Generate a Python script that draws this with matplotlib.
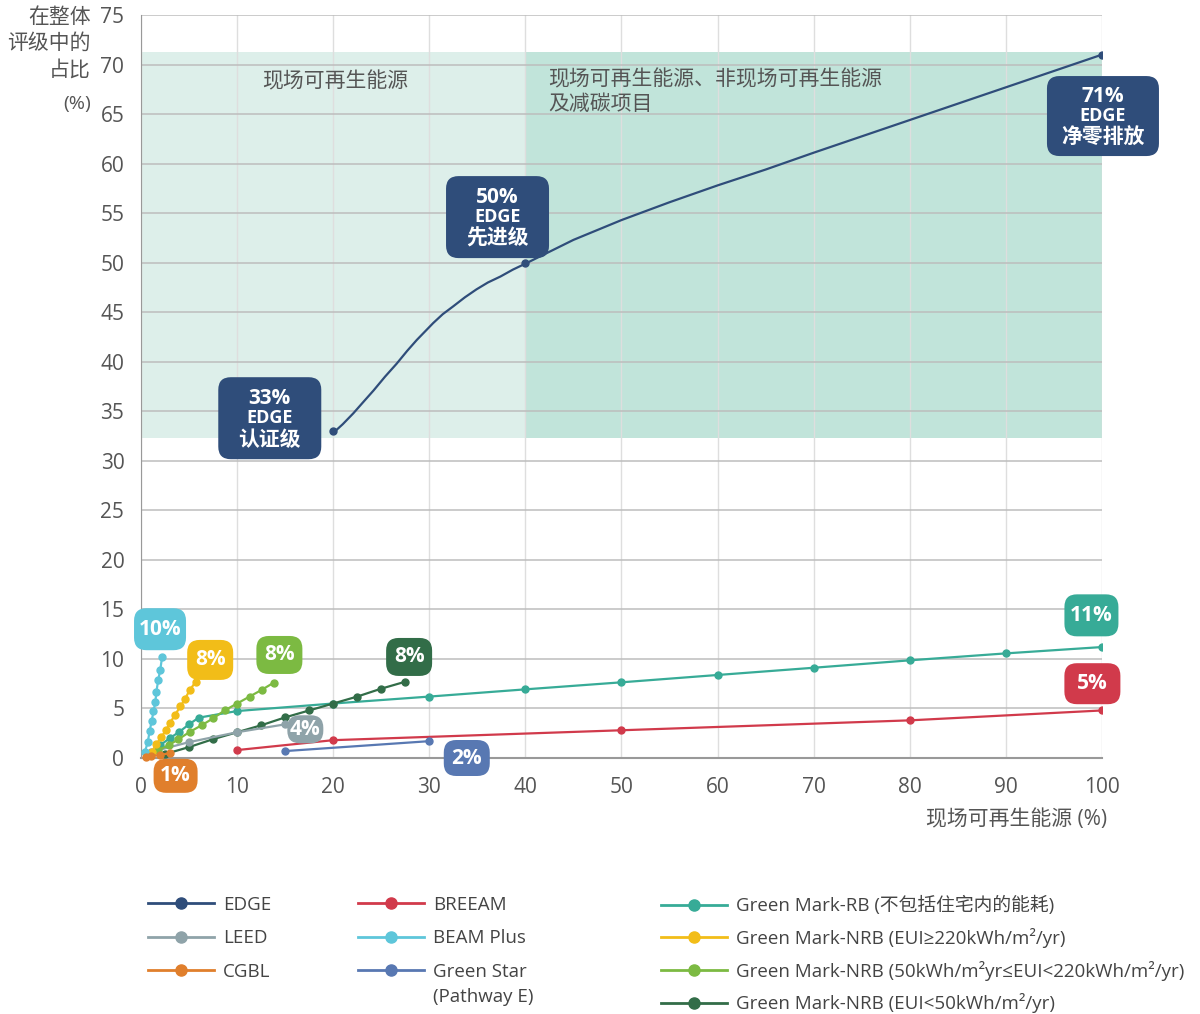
import matplotlib
matplotlib.use("Agg")
import matplotlib.pyplot as plt
from matplotlib.lines import Line2D
from matplotlib.patches import FancyBboxPatch, Rectangle

plt.rcParams['font.family'] = ['Open Sans', 'Noto Sans CJK SC', 'DejaVu Sans']

# ---- data ----
edge_x = [20, 40, 100]
edge_y = [33, 50, 71]
# traced smooth EDGE curve
edge_curve_x = [20.1, 21.0, 22.1, 23.1, 24.2, 25.4, 26.6, 27.7, 28.7, 29.6, 30.4, 31.4,
                32.5, 33.7, 34.9, 36.1, 37.4, 38.7, 40.0,
                42.5, 45, 47.5, 50, 55, 60, 65, 70, 80, 90, 100]
edge_curve_y = [32.9, 33.7, 34.8, 35.9, 37.1, 38.5, 39.8, 41.1, 42.2, 43.1, 43.9, 44.8,
                45.6, 46.5, 47.3, 48.0, 48.6, 49.3, 49.9,
                51.1, 52.3, 53.3, 54.3, 56.1, 57.8, 59.4, 61.1, 64.4, 67.7, 71.0]

leed_x = [1, 5, 10, 15]
leed_y = [0.6, 1.6, 2.6, 3.4]

cgbl_x = [0.5, 1, 2, 3]
cgbl_y = [0.1, 0.2, 0.3, 0.5]

breeam_x = [10, 20, 50, 80, 100]
breeam_y = [0.8, 1.8, 2.8, 3.8, 4.8]

beam_x = [0.4, 0.7, 0.9, 1.1, 1.3, 1.5, 1.6, 1.8, 2.0, 2.2]
beam_y = [0.6, 1.6, 2.7, 3.7, 4.7, 5.7, 6.7, 7.9, 8.9, 10.2]

gstar_x = [15, 30]
gstar_y = [0.7, 1.7]

gm_rb_x = [2, 3, 4, 5, 6, 10, 20, 30, 40, 50, 60, 70, 80, 90, 100]
gm_rb_y = [1.3, 2.0, 2.65, 3.4, 4.07, 4.74, 5.5, 6.2, 6.93, 7.64, 8.38, 9.11, 9.86, 10.56, 11.2]

gm_nrb1_x = [0.6, 1.1, 1.6, 2.1, 2.6, 3.0, 3.5, 4.1, 4.6, 5.1, 5.7]
gm_nrb1_y = [0.2, 0.6, 1.4, 2.1, 2.8, 3.5, 4.3, 5.2, 6.0, 6.9, 7.7]

gm_nrb2_x = [1.8, 2.9, 3.9, 5.1, 6.3, 7.5, 8.7, 10.0, 11.3, 12.6, 13.8]
gm_nrb2_y = [0.8, 1.3, 1.9, 2.65, 3.3, 4.0, 4.8, 5.5, 6.2, 6.9, 7.6]

gm_nrb3_x = [2.5, 5, 7.5, 10, 12.5, 15, 17.5, 20, 22.5, 25, 27.5]
gm_nrb3_y = [0.4, 1.1, 1.9, 2.6, 3.3, 4.1, 4.8, 5.5, 6.2, 7.0, 7.7]

c_edge = '#2f4d7a'
c_leed = '#8fa3a9'
c_cgbl = '#e07f2c'
c_breeam = '#d13a4b'
c_beam = '#5ec6da'
c_gstar = '#5878b2'
c_rb = '#37ab97'
c_nrb1 = '#f2bd18'
c_nrb2 = '#7cba42'
c_nrb3 = '#326d48'

fig = plt.figure(figsize=(12, 10.14), dpi=100)
ax = fig.add_axes([141/1200, 1-758/1014, 961/1200, 743/1014])
ax.set_xlim(0, 100)
ax.set_ylim(0, 75)

# shaded zones
ax.add_patch(Rectangle((0, 32.3), 40, 39.0, facecolor='#ddefea', edgecolor='none', zorder=0.2))
ax.add_patch(Rectangle((40, 32.3), 60, 39.0, facecolor='#c1e4da', edgecolor='none', zorder=0.2))

ax.set_axisbelow(True)
ax.set_xticks(range(0, 101, 10))
ax.set_yticks(range(0, 76, 5))
ax.grid(axis='y', color='#bdbdbd', lw=1.1)
ax.grid(axis='x', color='#dedede', lw=1.0)
for s in ['top', 'right']:
    ax.spines[s].set_visible(False)
ax.spines['left'].set_color('#999999')
ax.spines['bottom'].set_color('#999999')
ax.spines['bottom'].set_linewidth(1.5)
ax.tick_params(length=0, labelsize=15, labelcolor='#555555')
ax.tick_params(axis='x', pad=14)
ax.tick_params(axis='y', pad=12)

ax.text(20.2, 68.2, '现场可再生能源', fontsize=15, color='#555555', ha='center', va='center')
ax.text(42.4, 67.2, '现场可再生能源、非现场可再生能源\n及减碳项目', fontsize=15, color='#555555',
        ha='left', va='center', linespacing=1.2)

# series
lw = 1.6
ms = 5
ax.plot(edge_curve_x, edge_curve_y, color=c_edge, lw=lw, zorder=3)
ax.plot(edge_x, edge_y, 'o', color=c_edge, ms=ms, zorder=4)
ax.plot(breeam_x, breeam_y, '-o', color=c_breeam, lw=lw, ms=ms, zorder=3)
ax.plot(gstar_x, gstar_y, '-o', color=c_gstar, lw=lw, ms=ms, zorder=3)
ax.plot(gm_rb_x, gm_rb_y, '-o', color=c_rb, lw=lw, ms=ms, zorder=3)
ax.plot(gm_nrb3_x, gm_nrb3_y, '-o', color=c_nrb3, lw=lw, ms=ms, zorder=3)
ax.plot(leed_x, leed_y, '-o', color=c_leed, lw=lw, ms=ms, zorder=3)
ax.plot(gm_nrb2_x, gm_nrb2_y, '-o', color=c_nrb2, lw=lw, ms=ms, zorder=3)
ax.plot(gm_nrb1_x, gm_nrb1_y, '-o', color=c_nrb1, lw=lw, ms=ms, zorder=3)
ax.plot(beam_x, beam_y, '-o', color=c_beam, lw=lw, ms=ms, zorder=3)
ax.plot(cgbl_x, cgbl_y, '-o', color=c_cgbl, lw=lw, ms=ms, zorder=3, clip_on=False)

# tags (sizes given in pixels)
px_x = 961 / 100.0
px_y = 743 / 75.0


def box(cx, cy, w, h, color):
    dw = w / px_x
    dh = h / px_y
    p = FancyBboxPatch((cx - dw/2, cy - dh/2), dw, dh,
                       boxstyle='round,pad=0,rounding_size=1.3',
                       facecolor=color, edgecolor='none', zorder=5, clip_on=False,
                       mutation_aspect=px_x/px_y)
    ax.add_patch(p)


def tag(cx, cy, w, h, text, color, fs=15):
    box(cx, cy, w, h, color)
    ax.text(cx, cy, text, color='white', fontsize=fs, fontweight='bold',
            ha='center', va='center', zorder=6, clip_on=False)


def edge_tag(cx, cy, w, h, pct, name):
    box(cx, cy, w, h, c_edge)
    ax.text(cx, cy + 20/px_y, pct, color='white', fontsize=15, fontweight='bold',
            ha='center', va='center', zorder=6, clip_on=False)
    ax.text(cx, cy, 'EDGE', color='white', fontsize=13, fontweight='bold',
            ha='center', va='center', zorder=6, clip_on=False)
    ax.text(cx, cy - 22/px_y, name, color='white', fontsize=15, fontweight='bold',
            ha='center', va='center', zorder=6, clip_on=False)


edge_tag(13.4, 34.3, 103, 82, '33%', '认证级')
edge_tag(37.1, 54.6, 103, 82, '50%', '先进级')
edge_tag(100.1, 64.8, 112, 80, '71%', '净零排放')

tag(1.98, 13.0, 52, 42, '10%', c_beam)
tag(7.2, 9.9, 46, 40, '8%', c_nrb1)
tag(14.4, 10.4, 46, 38, '8%', c_nrb2)
tag(27.9, 10.2, 46, 38, '8%', c_nrb3)
tag(17.1, 2.9, 36, 28, '4%', c_leed)
tag(33.9, 0.0, 46, 36, '2%', c_gstar)
tag(3.6, -1.8, 44, 34, '1%', c_cgbl)
tag(98.9, 14.4, 54, 42, '11%', c_rb)
tag(99.0, 7.5, 56, 41, '5%', c_breeam)

# axis titles
fig.text(91/1200, 1-7/1014, '在整体\n评级中的\n占比', fontsize=15, color='#555555',
         ha='right', va='top', linespacing=1.32)
fig.text(91/1200, 1-104/1014, '(%)', fontsize=14, color='#555555', ha='right', va='center')
fig.text(1107/1200, 1-820/1014, '现场可再生能源 (%)', fontsize=15, color='#555555',
         ha='right', va='center')

# legend (three columns)


def h(c):
    return Line2D([], [], color=c, lw=2, marker='o', ms=8)


leg_kw = dict(frameon=False, fontsize=13.5, handlelength=3.5, handletextpad=0.5,
              labelcolor='#444444', borderaxespad=0, borderpad=0)
fig.legend([h(c_edge), h(c_leed), h(c_cgbl)], ['EDGE', 'LEED', 'CGBL'],
           loc='upper left', bbox_to_anchor=(148/1200, 1-896/1014), labelspacing=0.82, **leg_kw)
fig.legend([h(c_breeam), h(c_beam), h(c_gstar)], ['BREEAM', 'BEAM Plus', 'Green Star'],
           loc='upper left', bbox_to_anchor=(358/1200, 1-896/1014), labelspacing=0.82, **leg_kw)
fig.text(433/1200, 1-997/1014, '(Pathway E)', fontsize=13.5, color='#444444', ha='left', va='center')
fig.legend([h(c_rb), h(c_nrb1), h(c_nrb2), h(c_nrb3)],
           ['Green Mark-RB (不包括住宅内的能耗)',
            'Green Mark-NRB (EUI≥220kWh/m²/yr)',
            'Green Mark-NRB (50kWh/m²yr≤EUI<220kWh/m²/yr)',
            'Green Mark-NRB (EUI<50kWh/m²/yr)'],
           loc='upper left', bbox_to_anchor=(661/1200, 1-896/1014), labelspacing=0.68, **leg_kw)

fig.savefig('out.png', dpi=100)
